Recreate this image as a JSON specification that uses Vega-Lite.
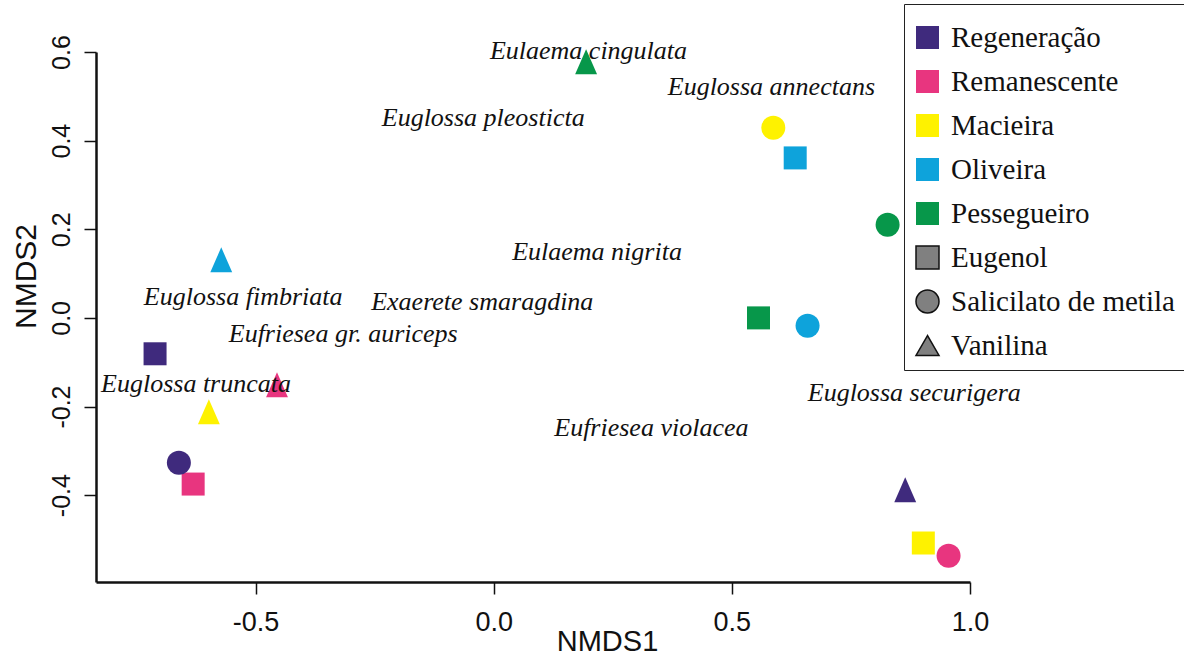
{
  "$schema": "https://vega.github.io/schema/vega-lite/v6.json",
  "width": 874,
  "height": 530,
  "autosize": {"type": "none"},
  "padding": {"left": 96, "top": 52, "right": 214, "bottom": 75},
  "background": "white",
  "config": {"view": {"stroke": null}},
  "datasets": {
    "sites": [
      {"site": "Regeneração", "attractant": "Eugenol", "NMDS1": -0.711, "NMDS2": -0.081},
      {"site": "Remanescente", "attractant": "Eugenol", "NMDS1": -0.631, "NMDS2": -0.375},
      {"site": "Macieira", "attractant": "Eugenol", "NMDS1": 0.902, "NMDS2": -0.508},
      {"site": "Oliveira", "attractant": "Eugenol", "NMDS1": 0.633, "NMDS2": 0.361},
      {"site": "Pessegueiro", "attractant": "Eugenol", "NMDS1": 0.556, "NMDS2": 0.0},
      {"site": "Regeneração", "attractant": "Salicilato de metila", "NMDS1": -0.661, "NMDS2": -0.327},
      {"site": "Remanescente", "attractant": "Salicilato de metila", "NMDS1": 0.955, "NMDS2": -0.537},
      {"site": "Macieira", "attractant": "Salicilato de metila", "NMDS1": 0.587, "NMDS2": 0.429},
      {"site": "Oliveira", "attractant": "Salicilato de metila", "NMDS1": 0.659, "NMDS2": -0.018},
      {"site": "Pessegueiro", "attractant": "Salicilato de metila", "NMDS1": 0.827, "NMDS2": 0.21},
      {"site": "Regeneração", "attractant": "Vanilina", "NMDS1": 0.864, "NMDS2": -0.388},
      {"site": "Remanescente", "attractant": "Vanilina", "NMDS1": -0.455, "NMDS2": -0.151},
      {"site": "Macieira", "attractant": "Vanilina", "NMDS1": -0.598, "NMDS2": -0.212},
      {"site": "Oliveira", "attractant": "Vanilina", "NMDS1": -0.572, "NMDS2": 0.131},
      {"site": "Pessegueiro", "attractant": "Vanilina", "NMDS1": 0.194, "NMDS2": 0.578}
    ],
    "species": [
      {"species": "Eulaema cingulata", "NMDS1": 0.199, "NMDS2": 0.585},
      {"species": "Euglossa annectans", "NMDS1": 0.583, "NMDS2": 0.503},
      {"species": "Euglossa pleosticta", "NMDS1": -0.022, "NMDS2": 0.433},
      {"species": "Eulaema nigrita", "NMDS1": 0.217, "NMDS2": 0.131},
      {"species": "Euglossa fimbriata", "NMDS1": -0.526, "NMDS2": 0.029},
      {"species": "Exaerete smaragdina", "NMDS1": -0.024, "NMDS2": 0.018},
      {"species": "Eufriesea gr. auriceps", "NMDS1": -0.316, "NMDS2": -0.054},
      {"species": "Euglossa truncata", "NMDS1": -0.625, "NMDS2": -0.167},
      {"species": "Euglossa securigera", "NMDS1": 0.883, "NMDS2": -0.187},
      {"species": "Eufriesea violacea", "NMDS1": 0.331, "NMDS2": -0.266}
    ],
    "legendEntries": []
  },
  "resolve": {"scale": {"color": "independent", "fill": "independent", "shape": "independent", "size": "independent", "stroke": "independent"}},
  "layer": [
    {
      "data": {"name": "sites"},
      "mark": {"type": "point", "filled": true, "opacity": 1, "strokeWidth": 0},
      "encoding": {
        "x": {
          "field": "NMDS1", "type": "quantitative",
          "scale": {"domain": [-0.835, 1.0], "nice": false, "zero": false},
          "axis": {
            "title": "NMDS1", "values": [-0.5, 0, 0.5, 1], "grid": false,
            "labelExpr": "replace(format(datum.value, '.1f'), '\u2212', '-')",
            "domainColor": "#111", "domainWidth": 2.5,
            "tickColor": "#111", "tickSize": 12, "tickWidth": 1.5,
            "labelFont": "Liberation Sans",
            "labelFontSize": 27, "labelColor": "#111", "labelPadding": 15,
            "labelFlush": false, "labelOverlap": false,
            "titleFont": "Liberation Sans", "titleFontSize": 29, "titleFontWeight": "normal",
            "titleColor": "#111", "titleX": 511, "titleY": 74,
            "titleBaseline": "bottom", "titleAlign": "center"
          }
        },
        "y": {
          "field": "NMDS2", "type": "quantitative",
          "scale": {"domain": [-0.596, 0.6], "nice": false, "zero": false},
          "axis": {
            "title": "NMDS2", "values": [-0.4, -0.2, 0, 0.2, 0.4, 0.6], "grid": false,
            "labelExpr": "replace(format(datum.value, '.1f'), '\u2212', '-')",
            "domainColor": "#111", "domainWidth": 2.5,
            "tickColor": "#111", "tickSize": 12, "tickWidth": 1.5,
            "labelFont": "Liberation Sans", "labelFontSize": 25, "labelColor": "#111",
            "labelAngle": 270, "labelAlign": "center", "labelBaseline": "alphabetic",
            "labelPadding": 15, "labelFlush": false, "labelOverlap": false,
            "titleFont": "Liberation Sans", "titleFontSize": 30, "titleFontWeight": "normal",
            "titleColor": "#111", "titleAngle": 270, "titleX": -61, "titleY": 224,
            "titleBaseline": "alphabetic", "titleAlign": "center"
          }
        },
        "color": {
          "field": "site", "type": "nominal",
          "scale": {
            "domain": ["Regeneração", "Remanescente", "Macieira", "Oliveira", "Pessegueiro"],
            "range": ["#3f2a7d", "#e8357f", "#fef200", "#0ea3db", "#07974a"]
          },
          "legend": null
        },
        "shape": {
          "field": "attractant", "type": "nominal",
          "scale": {"domain": ["Eugenol", "Salicilato de metila", "Vanilina"], "range": ["square", "circle", "M0,-1L0.875,1L-0.875,1Z"]},
          "legend": null
        },
        "size": {
          "field": "attractant", "type": "nominal",
          "scale": {"domain": ["Eugenol", "Salicilato de metila", "Vanilina"], "range": [529, 625, 576]},
          "legend": null
        }
      }
    },
    {
      "data": {"name": "species"},
      "mark": {"type": "text", "font": "Liberation Serif", "fontStyle": "italic", "fontSize": 26, "baseline": "alphabetic", "align": "center", "color": "#111"},
      "encoding": {
        "x": {"field": "NMDS1", "type": "quantitative"},
        "y": {"field": "NMDS2", "type": "quantitative"},
        "text": {"field": "species"}
      }
    },
    {
      "data": {"name": "legendEntries"},
      "mark": {"type": "point", "filled": true, "opacity": 1, "strokeWidth": 1.5},
      "encoding": {
        "fill": {
          "field": "entry", "type": "nominal",
          "scale": {
            "domain": ["Regeneração", "Remanescente", "Macieira", "Oliveira", "Pessegueiro", "Eugenol", "Salicilato de metila", "Vanilina"],
            "range": ["#3f2a7d", "#e8357f", "#fef200", "#0ea3db", "#07974a", "#808080", "#808080", "#808080"]
          },
          "legend": {
            "orient": "none", "legendX": 808, "legendY": -48,
            "title": " ", "titleFontSize": 10, "titlePadding": 0,
            "padding": 9, "strokeColor": "#222", "fillColor": "white",
            "symbolOpacity": 1, "symbolStrokeWidth": 1.5,
            "labelFont": "Liberation Serif", "labelFontSize": 29, "labelColor": "#111",
            "labelOffset": 9, "labelLimit": 0, "rowPadding": 14
          }
        },
        "shape": {
          "field": "entry", "type": "nominal",
          "scale": {
            "domain": ["Regeneração", "Remanescente", "Macieira", "Oliveira", "Pessegueiro", "Eugenol", "Salicilato de metila", "Vanilina"],
            "range": ["square", "square", "square", "square", "square", "square", "circle", "triangle-up"]
          }
        },
        "stroke": {
          "field": "entry", "type": "nominal",
          "scale": {
            "domain": ["Regeneração", "Remanescente", "Macieira", "Oliveira", "Pessegueiro", "Eugenol", "Salicilato de metila", "Vanilina"],
            "range": ["transparent", "transparent", "transparent", "transparent", "transparent", "#111", "#111", "#111"]
          }
        },
        "size": {
          "field": "entry", "type": "nominal",
          "scale": {
            "domain": ["Regeneração", "Remanescente", "Macieira", "Oliveira", "Pessegueiro", "Eugenol", "Salicilato de metila", "Vanilina"],
            "range": [529, 529, 529, 529, 529, 529, 620, 640]
          }
        }
      }
    }
  ]
}
